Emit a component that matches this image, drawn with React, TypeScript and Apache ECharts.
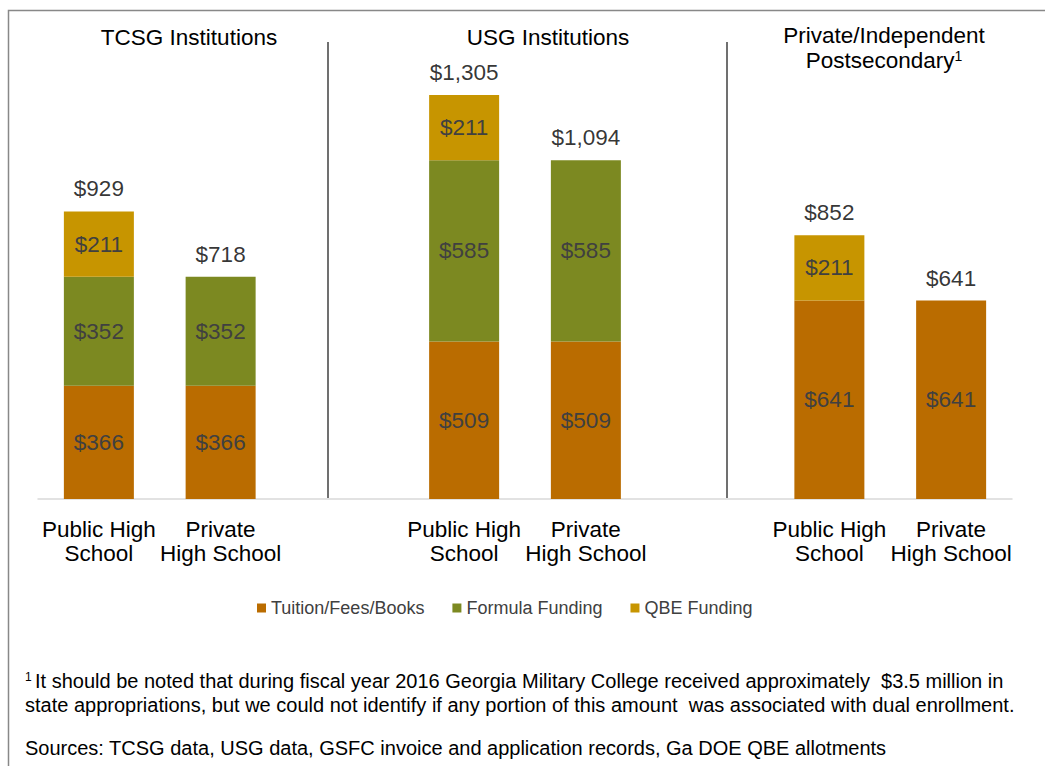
import React, { useEffect, useRef } from "react";
import * as echarts from "echarts";

const categories = [
  "Public High\nSchool",
  "Private\nHigh School",
  "",
  "Public High\nSchool",
  "Private\nHigh School",
  "",
  "Public High\nSchool",
  "Private\nHigh School",
];
const tuition = [366, 366, null, 509, 509, null, 641, 641];
const formula = [352, 352, null, 585, 585, null, null, null];
const qbe = [211, null, null, 211, null, null, 211, null];
const totals = [929, 718, null, 1305, 1094, null, 852, 641];
const seriesNames = ["Tuition/Fees/Books", "Formula Funding", "QBE Funding"];
const groupTitles = ["TCSG Institutions", "USG Institutions"];
const footnote1 =
  "It should be noted that during fiscal year 2016 Georgia Military College received approximately  $3.5 million in";
const footnote2 =
  "state appropriations, but we could not identify if any portion of this amount  was associated with dual enrollment.";
const sources =
  "Sources: TCSG data, USG data, GSFC invoice and application records, Ga DOE QBE allotments";

const COLORS = ["#BA6C00", "#7C8921", "#C79500"];
const FONT = "Liberation Sans, Arial, sans-serif";
const FS = 22.5;

export default function App() {
  const ref = useRef<HTMLDivElement>(null);
  useEffect(() => {
    document.body.style.margin = "0";
    const chart = echarts.init(ref.current!, null, { renderer: "svg" });
    const segLabel = {
      show: true,
      position: "inside",
      color: "#404040",
      fontSize: FS,
      fontFamily: FONT,
      formatter: (p: any) => "$" + p.value,
    };
    const mk = (name: string, data: any[], color: string) => ({
      name,
      type: "bar",
      stack: "total",
      data,
      barWidth: 70,
      itemStyle: { color },
      label: segLabel,
    });
    const title = (text: string, x: number, y: number) => ({
      type: "text",
      x,
      y,
      style: {
        text,
        fontSize: FS,
        fontFamily: FONT,
        fill: "#000",
        align: "center",
        verticalAlign: "middle",
      },
    });
    chart.setOption({
      animation: false,
      textStyle: { fontFamily: FONT },
      grid: { left: 38, right: 33, top: 65.6, bottom: 267, containLabel: false },
      legend: {
        data: seriesNames,
        bottom: 144,
        left: 252,
        itemWidth: 9,
        itemHeight: 9,
        itemGap: 28,
        icon: "rect",
        textStyle: { fontSize: 18, color: "#404040", fontFamily: FONT },
      },
      xAxis: {
        type: "category",
        data: categories,
        axisLine: { lineStyle: { color: "#D9D9D9", width: 1.5 } },
        axisTick: { show: false },
        axisLabel: {
          interval: 0,
          color: "#000",
          fontSize: FS,
          lineHeight: 24,
          margin: 18,
          fontFamily: FONT,
        },
      },
      yAxis: {
        type: "value",
        min: 0,
        max: 1400,
        show: false,
        splitLine: { show: false },
      },
      series: [
        mk(seriesNames[0], tuition, COLORS[0]),
        mk(seriesNames[1], formula, COLORS[1]),
        mk(seriesNames[2], qbe, COLORS[2]),
        {
          name: "Total",
          type: "scatter",
          data: totals,
          symbolSize: 0,
          silent: true,
          label: {
            show: true,
            position: "top",
            distance: 11,
            color: "#000",
            fontSize: FS,
            fontFamily: FONT,
            formatter: (p: any) => "$" + Number(p.value).toLocaleString("en-US"),
          },
          z: 5,
        },
      ],
      graphic: [
        {
          type: "rect",
          shape: { x: 8.5, y: 10.5, width: 1100, height: 900 },
          style: { fill: "none", stroke: "#888", lineWidth: 1.5 },
          silent: true,
        },
        {
          type: "line",
          shape: { x1: 328, y1: 42, x2: 328, y2: 498 },
          style: { stroke: "#404040", lineWidth: 1.5 },
        },
        {
          type: "line",
          shape: { x1: 727, y1: 42, x2: 727, y2: 498 },
          style: { stroke: "#404040", lineWidth: 1.5 },
        },
        title(groupTitles[0], 189, 37),
        title(groupTitles[1], 548, 37),
        title("Private/Independent", 884, 35),
        {
          type: "text",
          x: 884,
          y: 60,
          style: {
            text: "{a|Postsecondary}{s|1}",
            fontFamily: FONT,
            fill: "#000",
            align: "center",
            verticalAlign: "middle",
            rich: {
              a: { fontSize: FS, fontFamily: FONT, fill: "#000", verticalAlign: "middle" },
              s: { fontSize: 14, fontFamily: FONT, fill: "#000", verticalAlign: "top", padding: [0, 0, 9, 0] },
            },
          },
        },
        {
          type: "text",
          x: 25,
          y: 681,
          style: {
            text: "{s|1} {a|" + footnote1 + "}",
            verticalAlign: "middle",
            rich: {
              a: { fontSize: 20, fontFamily: FONT, fill: "#000" },
              s: { fontSize: 12, fontFamily: FONT, fill: "#000", padding: [0, 0, 8, 0] },
            },
          },
        },
        {
          type: "text",
          x: 25,
          y: 705,
          style: {
            text: footnote2,
            fontSize: 20,
            fontFamily: FONT,
            fill: "#000",
            verticalAlign: "middle",
          },
        },
        {
          type: "text",
          x: 25,
          y: 748,
          style: {
            text: sources,
            fontSize: 20,
            fontFamily: FONT,
            fill: "#000",
            verticalAlign: "middle",
          },
        },
      ],
    });
    return () => chart.dispose();
  }, []);
  return <div ref={ref} style={{ width: 1045, height: 766 }} />;
}
